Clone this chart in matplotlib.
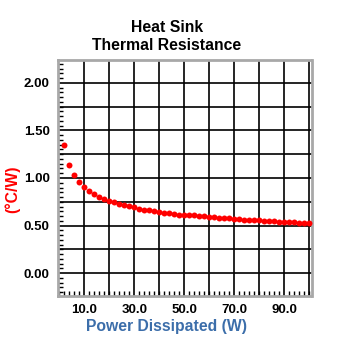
import matplotlib.pyplot as plt
import numpy as np
from matplotlib.ticker import MultipleLocator

# heat sink data: power in W, thermal resistance in degC/W
power = [2, 4, 6, 8, 10, 12, 14, 16, 18, 20,
         22, 24, 26, 28, 30, 32, 34, 36, 38, 40,
         42, 44, 46, 48, 50, 52, 54, 56, 58, 60,
         62, 64, 66, 68, 70, 72, 74, 76, 78, 80,
         82, 84, 86, 88, 90, 92, 94, 96, 98, 100]
resistance = [1.35, 1.14, 1.03, 0.96, 0.91, 0.865, 0.83, 0.80, 0.78, 0.758,
              0.747, 0.73, 0.72, 0.708, 0.69, 0.678, 0.667, 0.665, 0.656, 0.645,
              0.636, 0.634, 0.625, 0.615, 0.613, 0.607, 0.606, 0.60, 0.596, 0.592,
              0.587, 0.582, 0.578, 0.575, 0.572, 0.568, 0.562, 0.560, 0.558, 0.553,
              0.549, 0.548, 0.543, 0.540, 0.539, 0.536, 0.532, 0.528, 0.527, 0.524]
x_labels = ["10.0", "30.0", "50.0", "70.0", "90.0"]
y_labels = ["0.00", "0.50", "1.00", "1.50", "2.00"]

plt.rcParams['font.family'] = ['Liberation Sans', 'DejaVu Sans']

fig = plt.figure(figsize=(3.46, 3.47), dpi=100)
ax = fig.add_axes([58 / 346, 1 - 296 / 347, 254 / 346, 236 / 347])

ax.plot(power, resistance, 'o', color='#ff0000', markersize=4.3,
        markeredgewidth=0, zorder=3)

ax.set_xlim(-0.5, 101.1)
ax.set_ylim(-0.242, 2.242)

# grid every 10 W / 0.25, labels every 20 W / 0.5
for gx in np.arange(10, 101, 10):
    ax.axvline(gx, color='black', lw=1.2, zorder=1)
for gy in np.arange(0, 2.01, 0.25):
    ax.axhline(gy, color='black', lw=1.2, zorder=1)

ax.set_xticks([10, 30, 50, 70, 90])
ax.set_xticklabels(x_labels)
ax.set_yticks([0, 0.5, 1.0, 1.5, 2.0])
ax.set_yticklabels(y_labels)
ax.xaxis.set_minor_locator(MultipleLocator(2))
ax.yaxis.set_minor_locator(MultipleLocator(0.05))
ax.tick_params(which='both', direction='in', length=3.5, width=1, color='black',
               top=False, right=False)
ax.tick_params(which='major', length=0, pad=6, labelsize=9.5)
for lab in ax.get_xticklabels() + ax.get_yticklabels():
    lab.set_fontweight('bold')

for side in ax.spines.values():
    side.set_color('#a8a8a8')
    side.set_linewidth(2)
    side.set_linestyle((0, (1, 1)))

fig.text(166.7 / 346, 1 - 27 / 347, "Heat Sink", ha='center', va='center',
         fontsize=11.3, fontweight='bold')
fig.text(166.7 / 346, 1 - 46 / 347, "Thermal Resistance", ha='center', va='center',
         fontsize=11.3, fontweight='bold')
fig.text(166.7 / 346, 1 - 327 / 347, "Power Dissipated (W)", ha='center', va='center',
         fontsize=11.3, fontweight='bold', color='#3c6eaa')
fig.text(12 / 346, 1 - 189 / 347, "(°C/W)", ha='center', va='center', rotation=90,
         fontsize=11.3, fontweight='bold', color='#ff0000')

fig.savefig('out.png', dpi=100)
